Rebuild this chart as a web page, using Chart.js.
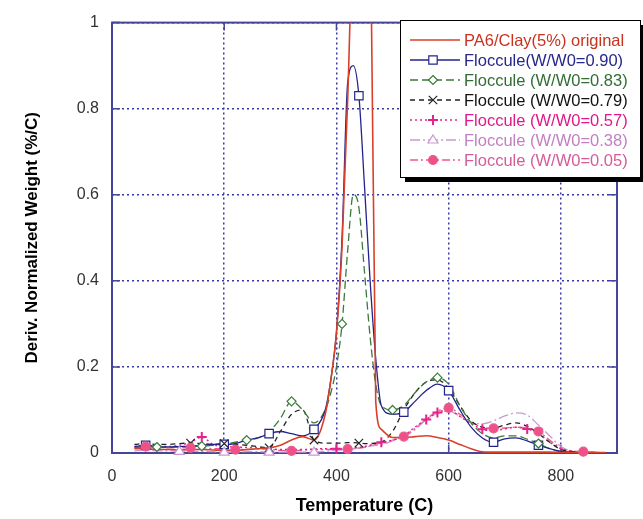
<!DOCTYPE html>
<html>
<head>
<meta charset="utf-8">
<script src="https://cdn.jsdelivr.net/npm/chart.js@4.4.0/dist/chart.umd.min.js"></script>
<style>
  body { margin: 0; background: #fff; }
  #grafica { display: block; }
</style>
</head>
<body>
<canvas id="grafica" width="643" height="519"></canvas>
<script>
// temperatura (C), rejilla comun para todas las curvas
var temps = [40, 60, 80, 100, 120, 140, 160, 180, 200, 220, 240, 260, 280, 300, 320, 340, 360, 380,
  390, 400, 410, 420, 430, 440, 450, 460, 470, 480,
  500, 520, 540, 560, 580, 600, 620, 640, 660, 680, 700, 720, 740, 760, 780, 800, 820, 840, 860, 880];

var original = [0.010, 0.010, 0.008, 0.008, 0.007, 0.008, 0.008, 0.007, 0.006, 0.006, 0.008, 0.010, 0.012, 0.018, 0.030, 0.038, 0.030, 0.090,
  0.17, 0.28, 0.48, 0.82, 1.25, 1.40, 1.40, 1.30, 0.12, 0.055,
  0.036, 0.036, 0.038, 0.040, 0.036, 0.030, 0.020, 0.010, 0.003, 0.002, 0.002, 0.002, 0.002, 0.002, 0.002, 0.001, 0.001, 0.001, 0.001, 0.001];

var floc90 = [0.015, 0.018, 0.015, 0.014, 0.015, 0.016, 0.018, 0.020, 0.020, 0.022, 0.030, 0.035, 0.045, 0.050, 0.045, 0.040, 0.055, 0.10,
  0.17, 0.28, 0.50, 0.86, 0.90, 0.83, 0.62, 0.40, 0.22, 0.11,
  0.090, 0.095, 0.12, 0.145, 0.16, 0.145, 0.10, 0.060, 0.035, 0.025, 0.033, 0.035, 0.028, 0.018, 0.010, 0.004, 0.002, 0.001, 0.001, 0];

var floc83 = [0.012, 0.015, 0.014, 0.013, 0.014, 0.015, 0.016, 0.018, 0.020, 0.025, 0.030, 0.035, 0.050, 0.080, 0.12, 0.10, 0.070, 0.10,
  0.14, 0.20, 0.30, 0.47, 0.60, 0.57, 0.42, 0.27, 0.16, 0.11,
  0.10, 0.11, 0.14, 0.165, 0.175, 0.16, 0.11, 0.070, 0.045, 0.035, 0.040, 0.040, 0.032, 0.022, 0.010, 0.003, 0.001, 0.001, 0, 0];

var floc79 = [0.020, 0.022, 0.020, 0.020, 0.022, 0.023, 0.022, 0.020, 0.022, 0.020, 0.018, 0.015, 0.012, 0.050, 0.090, 0.10, 0.030, 0.023,
  0.023, 0.023, 0.023, 0.024, 0.024, 0.023, 0.022, 0.022, 0.023, 0.025,
  0.050, 0.10, 0.14, 0.165, 0.17, 0.15, 0.11, 0.075, 0.060, 0.058, 0.065, 0.070, 0.062, 0.045, 0.025, 0.008, 0.003, 0.002, 0.001, 0];

var floc57 = [0.015, 0.018, 0.016, 0.015, 0.018, 0.025, 0.037, 0.020, 0.015, 0.014, 0.013, 0.012, 0.010, 0.008, 0.008, 0.008, 0.009, 0.010,
  0.010, 0.010, 0.010, 0.011, 0.012, 0.013, 0.015, 0.018, 0.022, 0.025,
  0.030, 0.040, 0.060, 0.078, 0.094, 0.10, 0.085, 0.068, 0.055, 0.052, 0.056, 0.060, 0.056, 0.045, 0.025, 0.010, 0.004, 0.002, 0.001, 0];

var floc38 = [0.005, 0.006, 0.005, 0.005, 0.004, 0.004, 0.004, 0.003, 0.002, 0.002, 0.003, 0.003, 0.002, 0.002, 0.002, 0.002, 0.002, 0.004,
  0.005, 0.006, 0.007, 0.008, 0.010, 0.012, 0.014, 0.016, 0.018, 0.020,
  0.028, 0.040, 0.058, 0.078, 0.092, 0.098, 0.085, 0.070, 0.068, 0.075, 0.086, 0.093, 0.088, 0.065, 0.040, 0.015, 0.004, 0.002, 0.001, 0];

var floc05 = [0.012, 0.015, 0.014, 0.012, 0.012, 0.012, 0.012, 0.010, 0.010, 0.008, 0.008, 0.009, 0.009, 0.006, 0.005, 0.007, 0.008, 0.008,
  0.008, 0.008, 0.008, 0.009, 0.010, 0.011, 0.013, 0.016, 0.020, 0.024,
  0.030, 0.038, 0.055, 0.078, 0.097, 0.105, 0.090, 0.072, 0.060, 0.057, 0.058, 0.060, 0.058, 0.050, 0.030, 0.012, 0.005, 0.003, 0.002, 0];

// temperaturas donde cada curva lleva simbolo
var marcas90 = [60, 200, 280, 360, 440, 520, 600, 680, 760];
var marcas83 = [80, 160, 240, 320, 410, 500, 580, 760];
var marcas79 = [140, 200, 280, 360, 440];
var marcas57 = [160, 400, 480, 560, 580, 660, 740];
var marcas38 = [120, 200, 280, 360];
var marcas05 = [60, 140, 220, 320, 420, 520, 600, 680, 760, 840];

var etiquetas = ['PA6/Clay(5%) original', 'Floccule(W/W0=0.90)', 'Floccule (W/W0=0.83)', 'Floccule (W/W0=0.79)',
  'Floccule (W/W0=0.57)', 'Floccule (W/W0=0.38)', 'Floccule (W/W0=0.05)'];

var yTicks = [0, 0.2, 0.4, 0.6, 0.8, 1];
var xTicks = [0, 200, 400, 600, 800];

var FUENTE = '"Liberation Sans", Arial, sans-serif';
var AZUL_EJE = '#45459c';

function serie(valores) {
  return temps.map(function(t, i) { return {x: t, y: valores[i]}; });
}

function dibujarMarca(ctx, estilo, x, y, r, color, relleno) {
  ctx.save();
  ctx.strokeStyle = color;
  ctx.fillStyle = relleno;
  ctx.lineWidth = 1.2;
  ctx.setLineDash([]);
  ctx.beginPath();
  if (estilo === 'rect') {
    ctx.rect(x - r * 0.7, y - r * 0.7, r * 1.4, r * 1.4);
    ctx.fill(); ctx.stroke();
  } else if (estilo === 'rectRot') {
    ctx.moveTo(x, y - r); ctx.lineTo(x + r, y); ctx.lineTo(x, y + r); ctx.lineTo(x - r, y); ctx.closePath();
    ctx.fill(); ctx.stroke();
  } else if (estilo === 'crossRot') {
    ctx.moveTo(x - r * 0.7, y - r * 0.7); ctx.lineTo(x + r * 0.7, y + r * 0.7);
    ctx.moveTo(x + r * 0.7, y - r * 0.7); ctx.lineTo(x - r * 0.7, y + r * 0.7);
    ctx.stroke();
  } else if (estilo === 'cross') {
    ctx.lineWidth = 2;
    ctx.moveTo(x - r, y); ctx.lineTo(x + r, y);
    ctx.moveTo(x, y - r); ctx.lineTo(x, y + r);
    ctx.stroke();
  } else if (estilo === 'triangle') {
    ctx.moveTo(x, y - r); ctx.lineTo(x + r, y + r * 0.6); ctx.lineTo(x - r, y + r * 0.6); ctx.closePath();
    ctx.fill(); ctx.stroke();
  } else if (estilo === 'circle') {
    ctx.arc(x, y, r, 0, Math.PI * 2);
    ctx.fill(); ctx.stroke();
  }
  ctx.restore();
}

// marco azul con marcas hacia dentro
var marco = {
  id: 'marco',
  beforeDatasetsDraw: function(chart) {
    var ctx = chart.ctx, a = chart.chartArea;
    var sx = chart.scales.x, sy = chart.scales.y;
    ctx.save();
    ctx.strokeStyle = AZUL_EJE;
    ctx.lineWidth = 2;
    ctx.strokeRect(a.left, a.top, a.right - a.left, a.bottom - a.top);
    ctx.lineWidth = 1.5;
    ctx.beginPath();
    yTicks.forEach(function(v) {
      var py = sy.getPixelForValue(v);
      ctx.moveTo(a.left, py); ctx.lineTo(a.left + 8, py);
      ctx.moveTo(a.right, py); ctx.lineTo(a.right - 8, py);
    });
    xTicks.forEach(function(v) {
      var px = sx.getPixelForValue(v);
      ctx.moveTo(px, a.bottom); ctx.lineTo(px, a.bottom - 8);
      ctx.moveTo(px, a.top); ctx.lineTo(px, a.top + 8);
    });
    ctx.stroke();
    ctx.restore();
  }
};

var leyenda = {
  id: 'leyenda',
  afterDraw: function(chart) {
    var ctx = chart.ctx;
    var x0 = 400, y0 = 20, w = 240, h = 157;
    ctx.save();
    ctx.fillStyle = '#000';
    ctx.fillRect(x0 + 5, y0 + 5, w, h);
    ctx.fillStyle = '#fff';
    ctx.fillRect(x0, y0, w, h);
    ctx.strokeStyle = '#000';
    ctx.lineWidth = 1;
    ctx.strokeRect(x0 + 0.5, y0 + 0.5, w, h);
    chart.data.datasets.forEach(function(ds, i) {
      var y = y0 + 20 + i * 20;
      ctx.strokeStyle = ds.borderColor;
      ctx.lineWidth = ds.borderWidth;
      ctx.setLineDash(ds.borderDash || []);
      ctx.beginPath();
      ctx.moveTo(410, y);
      ctx.lineTo(460, y);
      ctx.stroke();
      ctx.setLineDash([]);
      if (ds.pointStyle) {
        dibujarMarca(ctx, ds.pointStyle, 433, y, ds.radioMarca, ds.borderColor, ds.pointBackgroundColor);
      }
      ctx.fillStyle = ds.colorTexto;
      ctx.font = '16.5px ' + FUENTE;
      ctx.textBaseline = 'middle';
      ctx.textAlign = 'left';
      ctx.fillText(ds.label, 464, y + 1);
    });
    ctx.restore();
  }
};

var marcadores = {
  id: 'marcadores',
  afterDatasetsDraw: function(chart) {
    var ctx = chart.ctx, a = chart.chartArea;
    ctx.save();
    ctx.beginPath();
    ctx.rect(a.left, a.top - 6, a.right - a.left + 6, a.bottom - a.top + 12);
    ctx.clip();
    chart.data.datasets.forEach(function(ds, i) {
      if (!ds.pointStyle) return;
      var meta = chart.getDatasetMeta(i);
      meta.data.forEach(function(p, j) {
        if (ds.listaMarcas.indexOf(temps[j]) < 0) return;
        if (ds.data[j].y > 1) return;
        dibujarMarca(ctx, ds.pointStyle, p.x, p.y, ds.radioMarca, ds.borderColor, ds.pointBackgroundColor);
      });
    });
    ctx.restore();
  }
};

function crearSerie(nombre, valores, color, texto, ancho, trazo, estilo, lista, radio, relleno) {
  return {
    label: nombre,
    data: serie(valores),
    borderColor: color,
    colorTexto: texto,
    borderWidth: ancho,
    borderDash: trazo,
    pointStyle: estilo,
    listaMarcas: lista,
    radioMarca: radio,
    pointBackgroundColor: relleno,
    pointRadius: 0,
    cubicInterpolationMode: 'monotone',
    fill: false
  };
}

var datasets = [
  crearSerie(etiquetas[0], original, '#d8402a', '#c8321e', 1.6, [], null, [], 0, null),
  crearSerie(etiquetas[1], floc90, '#23238c', '#26268e', 1.3, [], 'rect', marcas90, 6, '#fff'),
  crearSerie(etiquetas[2], floc83, '#3a7a3a', '#2f6e35', 1.3, [8, 4], 'rectRot', marcas83, 4.5, '#fff'),
  crearSerie(etiquetas[3], floc79, '#222222', '#111111', 1.3, [5, 4], 'crossRot', marcas79, 6, '#fff'),
  crearSerie(etiquetas[4], floc57, '#e8208a', '#e0188a', 1.5, [2, 3], 'cross', marcas57, 5, '#e8208a'),
  crearSerie(etiquetas[5], floc38, '#c99ad2', '#c27fc2', 1.3, [10, 3, 2, 3], 'triangle', marcas38, 5, '#fff'),
  crearSerie(etiquetas[6], floc05, '#ea5c8c', '#d55c98', 1.4, [8, 3, 2, 3], 'circle', marcas05, 4.5, '#f0508a')
];

var grafica = new Chart(document.getElementById('grafica').getContext('2d'), {
  type: 'line',
  data: { datasets: datasets },
  options: {
    responsive: false,
    animation: false,
    devicePixelRatio: 1,
    layout: { padding: { top: 17, right: 26, left: 0, bottom: 0 } },
    plugins: {
      legend: { display: false },
      tooltip: { enabled: false }
    },
    scales: {
      x: {
        type: 'linear',
        min: 0,
        max: 900,
        afterFit: function(scale) { scale.height = 66; },
        ticks: {
          stepSize: 200,
          includeBounds: false,
          padding: 14,
          color: '#333',
          font: { family: FUENTE, size: 16 }
        },
        grid: { color: '#3838a6', lineWidth: 1.5, drawTicks: false },
        border: { display: false, dash: [2, 3] },
        title: {
          display: true,
          text: 'Temperature (C)',
          color: '#000',
          font: { family: FUENTE, size: 18, weight: 'bold' },
          padding: { top: 0, bottom: 2 }
        }
      },
      y: {
        min: 0,
        max: 1,
        afterFit: function(scale) { scale.width = 112; },
        ticks: {
          stepSize: 0.2,
          padding: 13,
          color: '#333',
          font: { family: FUENTE, size: 16 },
          callback: function(v) { return String(Math.round(v * 10) / 10); }
        },
        grid: { color: '#3838a6', lineWidth: 1.5, drawTicks: false },
        border: { display: false, dash: [2, 3] },
        title: {
          display: true,
          text: 'Deriv. Normalized Weight (%/C)',
          color: '#000',
          font: { family: FUENTE, size: 17, weight: 'bold' },
          padding: { top: 22, bottom: 0 }
        }
      }
    }
  },
  plugins: [marco, marcadores, leyenda]
});
</script>
</body>
</html>
